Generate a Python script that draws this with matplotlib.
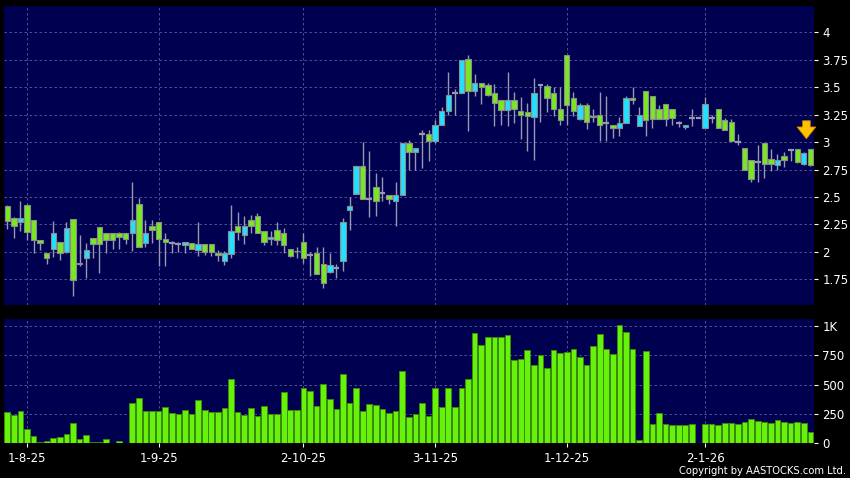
import numpy as np
import matplotlib
matplotlib.use('Agg')
import matplotlib.pyplot as plt

matplotlib.rcParams['font.family'] = 'DejaVu Sans'

# daily candles, Aug 2025 - Jan 2026
opens = [2.42, 2.31, 2.27, 2.43, 2.29, 2.11, 1.99, 2.03, 2.09, 2.00,
         2.30, 1.89, 1.94, 2.13, 2.23, 2.17, 2.17, 2.17, 2.17, 2.17,
         2.44, 2.08, 2.24, 2.27, 2.12, 2.08, 2.07, 2.06, 2.08, 2.02,
         2.07, 2.07, 1.99, 1.92, 1.98, 2.24, 2.15, 2.29, 2.33, 2.19,
         2.115, 2.20, 2.17, 2.03, 2.005, 2.09, 1.97, 1.99, 1.89, 1.82,
         1.85, 1.92, 2.38, 2.53, 2.78, 2.48, 2.59, 2.54, 2.52, 2.46,
         2.52, 2.99, 2.91, 3.07, 3.07, 3.01, 3.16, 3.28, 3.45, 3.45,
         3.76, 3.47, 3.54, 3.52, 3.45, 3.38, 3.29, 3.38, 3.28, 3.27,
         3.23, 3.52, 3.51, 3.45, 3.30, 3.79, 3.40, 3.21, 3.34, 3.23,
         3.25, 3.17, 3.155, 3.13, 3.17, 3.40, 3.15, 3.47, 3.42, 3.30,
         3.35, 3.30, 3.17, 3.14, 3.22, 3.22, 3.13, 3.22, 3.30, 3.20,
         3.18, 3.00, 2.945, 2.84, 2.82, 2.99, 2.85, 2.79, 2.87, 2.93,
         2.94, 2.80, 2.94]
highs = [2.43, 2.32, 2.46, 2.44, 2.29, 2.11, 1.99, 2.28, 2.09, 2.27,
         2.30, 2.15, 2.08, 2.13, 2.23, 2.17, 2.17, 2.18, 2.17, 2.64,
         2.49, 2.29, 2.29, 2.27, 2.17, 2.10, 2.09, 2.09, 2.08, 2.27,
         2.07, 2.07, 2.02, 2.01, 2.43, 2.36, 2.33, 2.34, 2.35, 2.19,
         2.19, 2.27, 2.22, 2.03, 2.04, 2.17, 2.00, 2.04, 2.04, 1.99,
         1.89, 2.31, 2.50, 2.78, 3.00, 2.92, 2.72, 2.68, 2.52, 2.64,
         2.99, 3.02, 2.95, 3.11, 3.11, 3.20, 3.32, 3.64, 3.48, 3.75,
         3.79, 3.62, 3.54, 3.54, 3.53, 3.38, 3.64, 3.46, 3.41, 3.36,
         3.58, 3.52, 3.53, 3.50, 3.50, 3.79, 3.46, 3.36, 3.36, 3.30,
         3.46, 3.42, 3.16, 3.23, 3.42, 3.50, 3.32, 3.47, 3.42, 3.34,
         3.35, 3.30, 3.19, 3.16, 3.30, 3.22, 3.41, 3.25, 3.30, 3.22,
         3.21, 3.07, 2.945, 2.84, 2.97, 2.99, 2.94, 2.89, 2.91, 2.93,
         2.94, 2.91, 2.94]
lows = [2.21, 2.13, 2.19, 2.11, 1.99, 2.02, 1.89, 1.95, 1.93, 1.99,
        1.60, 1.87, 1.76, 1.94, 1.81, 1.99, 2.03, 2.03, 2.07, 2.01,
        2.04, 2.04, 2.08, 1.87, 1.87, 1.99, 2.00, 1.99, 2.03, 1.96,
        1.97, 1.96, 1.92, 1.88, 1.94, 2.11, 2.07, 2.17, 2.17, 2.06,
        2.06, 2.06, 1.99, 1.95, 1.94, 1.90, 1.78, 1.80, 1.67, 1.81,
        1.76, 1.83, 2.20, 2.53, 2.48, 2.32, 2.33, 2.46, 2.44, 2.24,
        2.52, 2.75, 2.75, 2.76, 2.83, 2.99, 3.16, 3.25, 3.25, 3.45,
        3.10, 3.42, 3.35, 3.42, 3.15, 3.16, 3.15, 3.17, 3.03, 2.92,
        2.84, 3.18, 3.27, 3.24, 3.16, 3.16, 3.24, 3.20, 3.12, 3.18,
        3.01, 3.01, 3.04, 3.06, 3.17, 3.35, 3.15, 3.06, 3.13, 3.21,
        3.15, 3.16, 3.14, 3.12, 3.15, 3.22, 3.13, 3.17, 3.13, 3.11,
        3.01, 2.97, 2.745, 2.64, 2.64, 2.67, 2.74, 2.75, 2.77, 2.83,
        2.81, 2.79, 2.78]
closes = [2.28, 2.24, 2.31, 2.18, 2.11, 2.08, 1.94, 2.17, 1.99, 2.22,
          1.74, 1.90, 2.02, 2.07, 2.07, 2.11, 2.11, 2.14, 2.12, 2.29,
          2.04, 2.17, 2.20, 2.12, 2.09, 2.08, 2.07, 2.09, 2.03, 2.07,
          2.00, 2.00, 1.97, 1.99, 2.19, 2.18, 2.24, 2.24, 2.17, 2.09,
          2.135, 2.11, 2.06, 1.96, 2.01, 1.94, 1.97, 1.80, 1.72, 1.88,
          1.85, 2.27, 2.42, 2.78, 2.48, 2.48, 2.46, 2.54, 2.48, 2.52,
          2.99, 2.91, 2.945, 3.07, 3.01, 3.16, 3.28, 3.43, 3.45, 3.75,
          3.47, 3.54, 3.50, 3.43, 3.36, 3.29, 3.38, 3.30, 3.25, 3.24,
          3.45, 3.52, 3.40, 3.30, 3.20, 3.34, 3.28, 3.34, 3.18, 3.24,
          3.16, 3.17, 3.13, 3.17, 3.40, 3.38, 3.25, 3.20, 3.21, 3.21,
          3.21, 3.22, 3.17, 3.155, 3.22, 3.22, 3.35, 3.22, 3.13, 3.11,
          3.01, 3.00, 2.745, 2.66, 2.82, 2.80, 2.80, 2.84, 2.84, 2.93,
          2.82, 2.90, 2.79]
volumes = [263, 241, 272, 119, 65, 8, 20, 45, 57, 79,
           170, 34, 68, 8, 8, 34, 0, 20, 0, 343,
           382, 275, 275, 272, 312, 261, 249, 280, 249, 371,
           283, 266, 266, 297, 547, 269, 244, 297, 232, 317,
           249, 252, 439, 286, 280, 473, 442, 317, 501, 374,
           292, 586, 343, 467, 275, 334, 326, 292, 258, 272,
           615, 227, 249, 346, 235, 473, 309, 467, 306, 467,
           544, 941, 836, 901, 907, 907, 918, 708, 714, 796,
           669, 751, 640, 793, 765, 773, 799, 734, 663, 830,
           929, 805, 759, 1003, 949, 802, 31, 785, 164, 258,
           161, 156, 156, 156, 161, 0, 161, 161, 156, 170,
           176, 167, 181, 204, 193, 178, 176, 198, 178, 173,
           181, 176, 93]

date_idx = [3, 23, 45, 65, 85, 106]
date_labels = ['1-8-25', '1-9-25', '2-10-25', '3-11-25', '1-12-25', '2-1-26']
price_ticks = [1.75, 2, 2.25, 2.5, 2.75, 3, 3.25, 3.5, 3.75, 4]
price_tick_labels = ['1.75', '2', '2.25', '2.5', '2.75', '3', '3.25', '3.5', '3.75', '4']
vol_ticks = [0, 250, 500, 750, 1000]
vol_tick_labels = ['0', '250', '500', '750', '1K']

NAVY = '#000050'
CYAN = '#22e0ff'
GREEN = '#77e822'
WICK = '#9898b0'
EDGE = '#8c8c8c'
GRID = '#5e5e98'

o = np.array(opens); h = np.array(highs); l = np.array(lows); c = np.array(closes)
x = np.arange(len(o))
n = len(o)

fig = plt.figure(figsize=(8.5, 4.78), dpi=100, facecolor='black')
ax1 = fig.add_axes([4/850, 1-305/478, 810/850, 299/478])
ax2 = fig.add_axes([4/850, 1-443.3/478, 810/850, 124.3/478])

for ax in (ax1, ax2):
    ax.set_facecolor(NAVY)
    for s in ax.spines.values():
        s.set_visible(False)
    ax.yaxis.tick_right()
    ax.tick_params(axis='y', colors='white', labelcolor='white', length=3, width=0.8, pad=3, labelsize=8.5)
    ax.set_xlim(-0.49, 122.55)
    ax.set_xticks(date_idx)
    for xi in date_idx:
        ax.axvline(xi, color=GRID, lw=0.6, ls=(0, (3, 3)), zorder=0)

# candles
ax1.vlines(x, l, h, color=WICK, lw=1.0, zorder=2)
up = c > o
dn = c < o
eq = c == o
ax1.bar(x[up], (c - o)[up], bottom=o[up], width=0.82, color=CYAN, edgecolor=EDGE, linewidth=0.8, zorder=3)
ax1.bar(x[dn], (o - c)[dn], bottom=c[dn], width=0.82, color=GREEN, edgecolor=EDGE, linewidth=0.8, zorder=3)
ax1.hlines(o[eq], x[eq] - 0.45, x[eq] + 0.45, color=WICK, lw=1.6, zorder=3)

ax1.set_ylim(1.516, 4.24)
ax1.set_yticks(price_ticks)
ax1.set_yticklabels(price_tick_labels)
for p in price_ticks:
    ax1.axhline(p, color=GRID, lw=0.6, ls=(0, (3, 3)), zorder=0)
ax1.tick_params(axis='x', length=0, labelbottom=False)

# marker arrow over the latest bars
ax_x = n - 1.6
ax1.annotate('', xy=(ax_x, h[-3:].max() + 0.065), xytext=(ax_x, h[-3:].max() + 0.28),
             arrowprops=dict(arrowstyle='simple,head_width=1.35,head_length=0.85,tail_width=0.55',
                             fc='#ffc400', ec='#d08000', lw=0.6), zorder=5)

# volume
ax2.bar(x, volumes, width=0.86, color='#66f20a', edgecolor='#3c8a08', linewidth=0.7, zorder=3)
ax2.set_ylim(0, 1057)
ax2.set_yticks(vol_ticks)
ax2.set_yticklabels(vol_tick_labels)
for v in vol_ticks[1:]:
    ax2.axhline(v, color=GRID, lw=0.6, ls=(0, (3, 3)), zorder=0)
ax2.set_xticklabels(date_labels)
ax2.tick_params(axis='x', colors='white', labelcolor='white', length=3, width=0.8, pad=3, labelsize=8.5)

fig.text(0.9955, 0.004, 'Copyright by AASTOCKS.com Ltd.', color='white', fontsize=7.2, ha='right', va='bottom')

fig.savefig('out.png', dpi=100, facecolor='black')
